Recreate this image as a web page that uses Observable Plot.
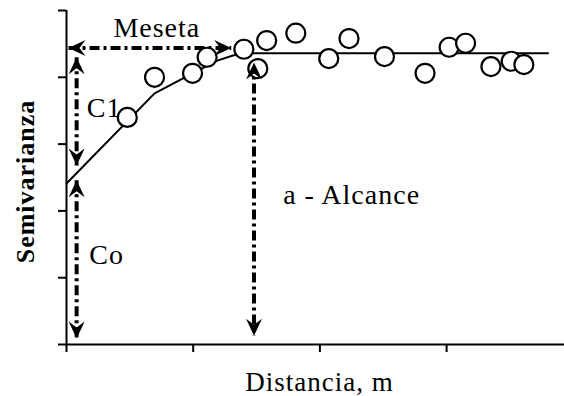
<!DOCTYPE html>
<html><head><meta charset="utf-8">
<script src="https://cdn.jsdelivr.net/npm/d3@7"></script>
<script src="https://cdn.jsdelivr.net/npm/@observablehq/plot@0.6"></script>
<style>
html,body{margin:0;padding:0;background:#fff;}
svg text{letter-spacing:1px;}
</style></head><body><div id="chart"></div>
<script>
// Experimental semivariogram points (distance, semivariance)
const distance = [0.48, 0.695, 0.995, 1.11, 1.40, 1.51, 1.58, 1.81, 2.07, 2.23, 2.51, 2.83, 3.02, 3.15, 3.35, 3.51, 3.61];
const semivariance = [3.40, 4.00, 4.06, 4.30, 4.42, 4.13, 4.55, 4.66, 4.28, 4.58, 4.31, 4.06, 4.45, 4.51, 4.16, 4.24, 4.19];
// Fitted model curve
const modelX = [0, 0.695, 0.995, 1.19, 1.32, 1.48, 3.80];
const modelY = [2.41, 3.76, 4.06, 4.25, 4.33, 4.36, 4.36];
// Ticks (no labels)
const xTicks = [0, 1, 2, 3];
const yTicks = [0, 1, 2, 3, 4, 5];
// Annotation arrows (double-headed)
const arrowX1 = [0.016, 0.08, 0.08, 1.48];
const arrowY1 = [4.44, 4.30, 2.46, 4.22];
const arrowX2 = [1.30, 0.08, 0.08, 1.48];
const arrowY2 = [4.44, 2.68, 0.09, 0.13];
// Annotation labels
const labelText = ["Meseta", "C1", "Co", "a - Alcance"];
const labelX = [0.37, 0.16, 0.18, 1.71];
const labelY = [4.60, 3.41, 1.20, 2.11];
const xTitle = "Distancia, m";
const yTitle = "Semivarianza";

const W = 564, H = 396, ML = 66;
const xMax = (W - ML) / 126.7;

const idx = a => a.map((_, i) => i);
// arrowheads
const heads = [];
arrowX1.forEach((_, i) => {
  const vertical = arrowX1[i] === arrowX2[i];
  let r1, r2;
  if (vertical) { r1 = arrowY1[i] > arrowY2[i] ? 0 : 180; r2 = (r1 + 180) % 360; }
  else { r1 = arrowX1[i] < arrowX2[i] ? 270 : 90; r2 = (r1 + 180) % 360; }
  heads.push({x: arrowX1[i], y: arrowY1[i], rot: r1});
  heads.push({x: arrowX2[i], y: arrowY2[i], rot: r2});
});
const headSymbol = {
  draw(ctx) {
    ctx.moveTo(0, 0);
    ctx.lineTo(8, 17);
    ctx.lineTo(0, 11);
    ctx.lineTo(-8, 17);
    ctx.closePath();
  }
};

const font = "'Liberation Serif', 'Times New Roman', serif";
const chart = Plot.plot({
  width: W, height: H,
  marginLeft: ML, marginRight: 0, marginTop: 10, marginBottom: 52,
  x: {domain: [0, xMax]},
  y: {domain: [0, 5]},
  style: {fontFamily: font, background: "#fff", color: "#000"},
  marks: [
    Plot.axisX(xTicks, {tickSize: 8, strokeWidth: 2, tickFormat: () => "", label: null}),
    Plot.axisY(yTicks, {anchor: "left", tickSize: 8, strokeWidth: 2, tickFormat: () => "", label: null}),
    Plot.ruleX([0], {strokeWidth: 2}),
    Plot.ruleY([0], {strokeWidth: 2}),
    Plot.line(idx(modelX), {x: modelX, y: modelY, stroke: "black", strokeWidth: 2}),
    Plot.link(idx(arrowX1), {x1: arrowX1, y1: arrowY1, x2: arrowX2, y2: arrowY2,
      stroke: "black", strokeWidth: 4, strokeDasharray: "10,4,3,4"}),
    Plot.dot(idx(distance), {x: distance, y: semivariance, r: 9.5, fill: "white", stroke: "black", strokeWidth: 2.2}),
    Plot.dot(heads, {x: "x", y: "y", rotate: "rot", symbol: headSymbol, fill: "black", stroke: "none"}),
    Plot.text(idx(labelText), {x: labelX, y: labelY, text: labelText, textAnchor: "start",
      lineAnchor: "bottom", fontSize: 28, fill: "black"}),
    Plot.text([xTitle], {frameAnchor: "bottom", textAnchor: "middle", dy: 46, dx: 4, lineAnchor: "bottom", fontSize: 27, fill: "black"}),
    Plot.text([yTitle], {frameAnchor: "left", textAnchor: "middle", dx: -33, dy: 4, rotate: -90, lineAnchor: "bottom",
      fontSize: 26, fontWeight: "bold", fill: "black"})
  ]
});
document.getElementById("chart").appendChild(chart);
</script></body></html>
